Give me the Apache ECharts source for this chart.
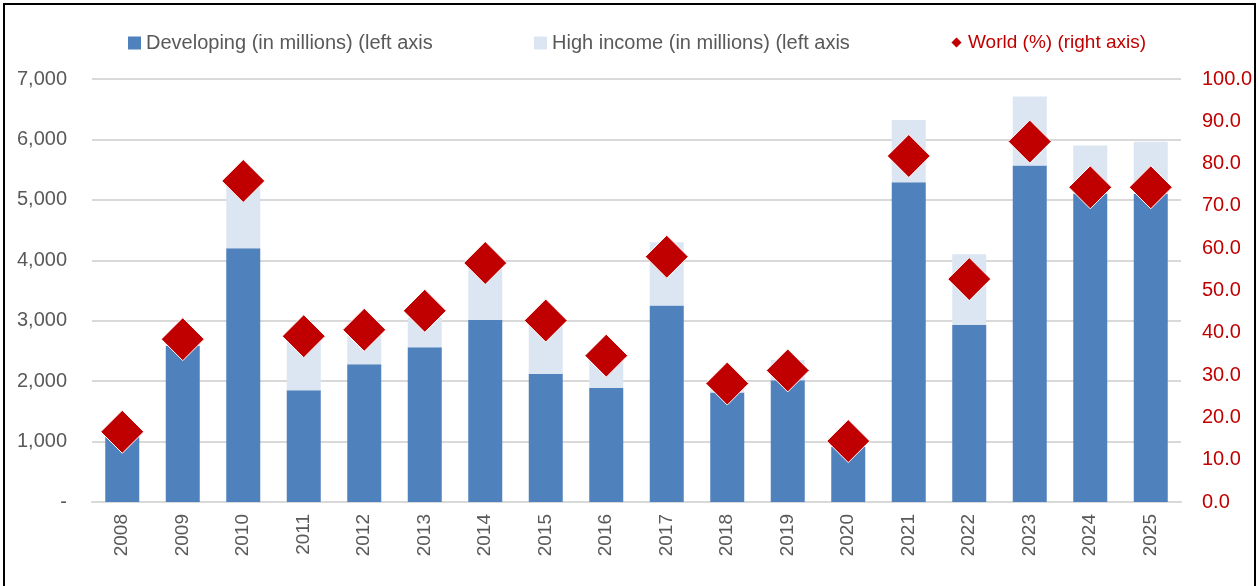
<!DOCTYPE html>
<html>
<head>
<meta charset="utf-8">
<script src="https://cdn.jsdelivr.net/npm/echarts@6/dist/echarts.min.js"></script>
<style>html,body{margin:0;padding:0;background:#fff;}#c{width:1258px;height:586px;}</style>
</head>
<body>
<div id="c"></div>
<script>
const years = ['2008','2009','2010','2011','2012','2013','2014','2015','2016','2017','2018','2019','2020','2021','2022','2023','2024','2025'];
const developing = [1076, 2580, 4200, 1850, 2280, 2560, 3010, 2120, 1890, 3250, 1810, 2015, 910, 5290, 2930, 5570, 5100, 5100];
const highIncome = [40, 110, 1100, 880, 600, 490, 950, 860, 520, 1050, 140, 335, 90, 1030, 1170, 1140, 800, 860];
const world = [16.6, 38.5, 75.9, 39.2, 40.7, 45.2, 56.5, 42.9, 34.6, 58.0, 28.0, 31.1, 14.4, 81.8, 52.7, 85.2, 74.4, 74.4];
const leftTicks = {min: 0, max: 7000, interval: 1000};
const rightTicks = {min: 0, max: 100, interval: 10};

const FONT = 'Liberation Sans, Arial, sans-serif';
const chart = echarts.init(document.getElementById('c'), null, {renderer: 'canvas'});
const legendBase = {top: 28, itemWidth: 13, itemHeight: 13, itemGap: 8, textStyle: {fontFamily: FONT, fontSize: 20, color: '#595959'}};
chart.setOption({
  animation: false,
  backgroundColor: '#fff',
  graphic: [{type: 'rect', shape: {x: 4, y: 4, width: 1251, height: 620}, style: {fill: 'none', stroke: '#000', lineWidth: 2}, silent: true}],
  legend: [
    Object.assign({}, legendBase, {left: 123, data: [{name: 'Developing (in millions) (left axis', icon: 'rect'}]}),
    Object.assign({}, legendBase, {left: 529, data: [{name: 'High income (in millions) (left axis', icon: 'rect'}]}),
    Object.assign({}, legendBase, {left: 944, itemWidth: 13, itemHeight: 13, itemGap: 7, data: [{name: 'World (%) (right axis)', icon: 'diamond'}], textStyle: {fontFamily: FONT, fontSize: 19, color: '#C00000'}})
  ],
  grid: {left: 92, right: 77, top: 79, bottom: 84, containLabel: false},
  xAxis: {
    type: 'category', data: years,
    axisLine: {show: true, lineStyle: {color: '#d9d9d9', width: 2}},
    axisTick: {show: false},
    axisLabel: {rotate: 90, fontFamily: FONT, fontSize: 19, color: '#595959', margin: 12}
  },
  yAxis: [
    {type: 'value', min: leftTicks.min, max: leftTicks.max, interval: leftTicks.interval,
     axisLine: {show: false}, axisTick: {show: false},
     splitLine: {lineStyle: {color: '#d9d9d9', width: 2}},
     axisLabel: {fontFamily: FONT, fontSize: 20, color: '#595959', margin: 25,
       formatter: v => v === 0 ? '-' : v.toLocaleString('en-US')}},
    {type: 'value', min: rightTicks.min, max: rightTicks.max, interval: rightTicks.interval, position: 'right',
     axisLine: {show: false}, axisTick: {show: false}, splitLine: {show: false},
     axisLabel: {fontFamily: FONT, fontSize: 20, color: '#C00000', margin: 21, formatter: v => v.toFixed(1)}}
  ],
  series: [
    {name: 'Developing (in millions) (left axis', type: 'bar', stack: 'a', data: developing, barWidth: 34,
     itemStyle: {color: '#4F81BD'}},
    {name: 'High income (in millions) (left axis', type: 'bar', stack: 'a', data: highIncome, barWidth: 34,
     itemStyle: {color: '#DCE6F2'}},
    {name: 'World (%) (right axis)', type: 'scatter', yAxisIndex: 1, data: world, symbol: 'diamond', symbolSize: 43,
     itemStyle: {color: '#C00000', borderColor: '#fff', borderWidth: 1, opacity: 1}, z: 5}
  ]
});
</script>
</body>
</html>
